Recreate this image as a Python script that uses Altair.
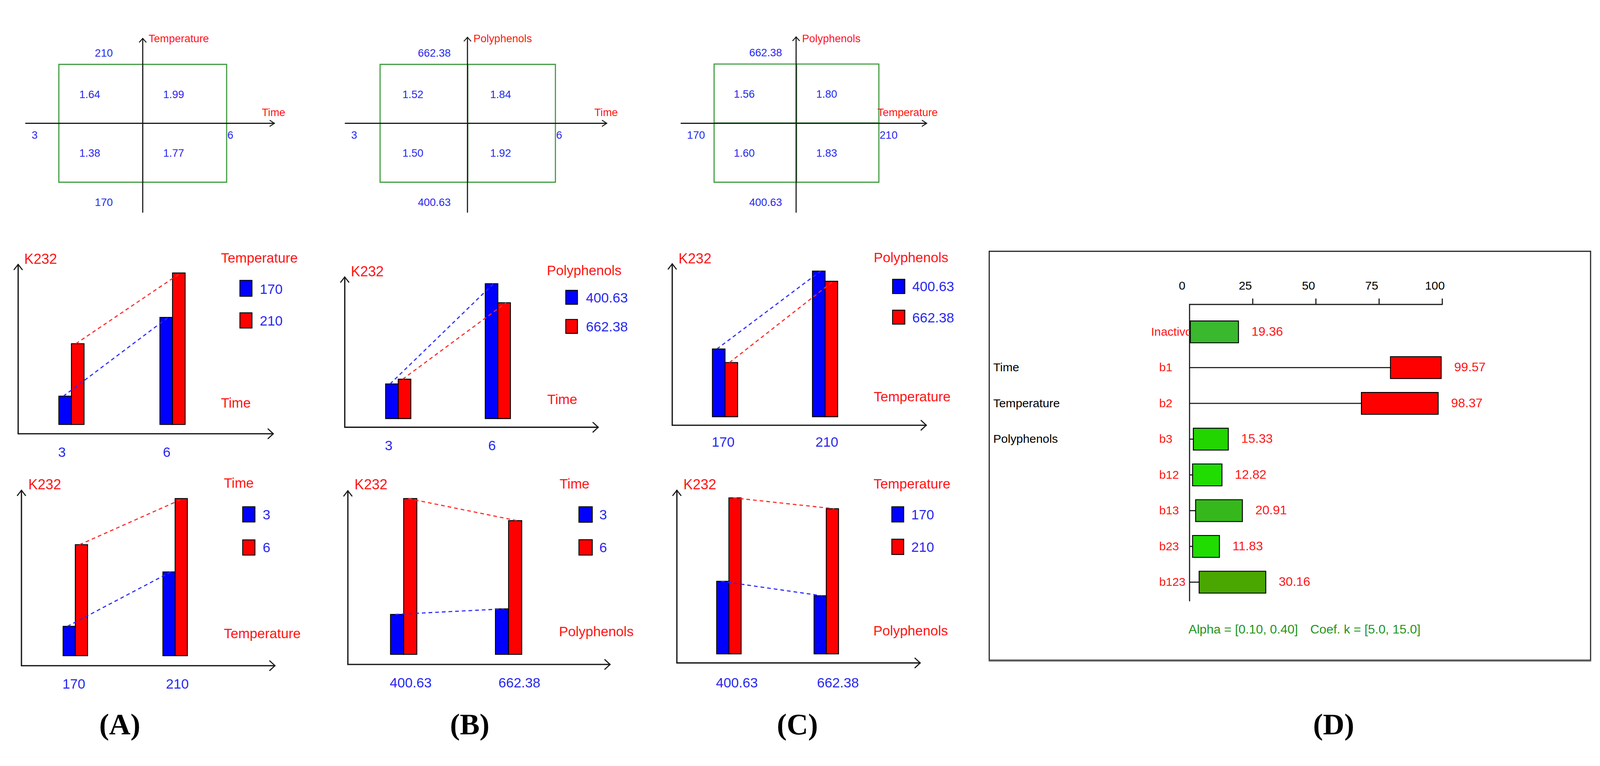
import altair as alt
import pandas as pd

# ---------------- data ----------------
time_levels = [3, 6]
temp_levels = [170, 210]
poly_levels = [400.63, 662.38]

A_time = [3, 3, 6, 6]
A_temp = [170, 210, 170, 210]
A_k232 = [1.38, 1.64, 1.77, 1.99]

B_time = [3, 3, 6, 6]
B_poly = [400.63, 662.38, 400.63, 662.38]
B_k232 = [1.50, 1.52, 1.92, 1.84]

C_temp = [170, 170, 210, 210]
C_poly = [400.63, 662.38, 400.63, 662.38]
C_k232 = [1.60, 1.56, 1.83, 1.80]

# lower end of the K232 axis in the interaction plots
A_base = 1.24
B_base = 1.355
C_base = 1.40

effect_names = ["Inactivo", "b1", "b2", "b3", "b12", "b13", "b23", "b123"]
effect_values = [19.36, 99.57, 98.37, 15.33, 12.82, 20.91, 11.83, 30.16]
effect_low = [0.3, 79.5, 68.0, 1.5, 1.2, 2.4, 1.2, 3.8]
factor_names = ["Time", "Temperature", "Polyphenols"]
factor_effects = ["b1", "b2", "b3"]
effect_ticks = [0, 25, 50, 75, 100]
alpha_text = "Alpha = [0.10, 0.40]"
coef_text = "Coef. k = [5.0, 15.0]"
panel_letters = ["(A)", "(B)", "(C)", "(D)"]
response_name = "K232"

# ---------------- styles ----------------
OFF = 8
FONT = "Liberation Sans, Arial, sans-serif"
SERIF = "Liberation Serif, Times New Roman, serif"
BLUE_T = "#2828f0"
RED_T = "#ff1414"
BLUE_F = "#0000ff"
RED_F = "#ff0000"
GREEN = "#3d9a3d"
AXIS = "#1a1a1a"
EFFECT_COLORS = ["#3ab82e", "#ff0000", "#ff0000", "#22d400", "#20dc00",
                 "#36b81c", "#20dc00", "#4aa600"]
FS_TOP = 29      # square plots
FS_BAR = 37      # interaction plots
FS_K = 38
FS_D = 32        # effects panel labels
FS_DV = 34       # effects panel values


def P(v):
    return v - OFF


def lab(v):
    return f"{v:g}"


def one():
    return alt.Data(values=[{"a": 1}])


def seg(x1, y1, x2, y2, color=AXIS, w=3, dash=None):
    kw = dict(color=color, strokeWidth=w, strokeCap="round")
    if dash:
        kw["strokeDash"] = dash
    return alt.Chart(one()).mark_rule(**kw).encode(
        x=alt.value(P(x1)), y=alt.value(P(y1)),
        x2=alt.value(P(x2)), y2=alt.value(P(y2)))


def label(text, x, y, color, size, font=FONT, align="left", weight="normal"):
    return alt.Chart(alt.Data(values=[{"t": text}])).mark_text(
        align=align, baseline="middle", color=color, fontSize=size,
        font=font, fontWeight=weight).encode(
        x=alt.value(P(x)), y=alt.value(P(y)), text="t:N")


def up_arrow(x, y, hw, hh, w=3):
    return [seg(x - hw, y + hh, x, y, w=w), seg(x, y, x + hw, y + hh, w=w)]


def right_arrow(x, y, hw, hh, w=3):
    return [seg(x - hh, y - hw, x, y, w=w), seg(x, y, x - hh, y + hw, w=w)]


# ---------------- square (cube) plots ----------------
def square_plot(xv, yv, k, xlev, ylev, g, vname, hname):
    df = pd.DataFrame({"xl": [lab(v) for v in xv], "yl": [lab(v) for v in yv], "k": k})
    xsc = alt.Scale(type="band", domain=[lab(v) for v in xlev],
                    range=[P(g["bx0"]), P(g["bx1"])], paddingInner=0, paddingOuter=0)
    ysc = alt.Scale(type="band", domain=[lab(ylev[1]), lab(ylev[0])],
                    range=[P(g["by0"]), P(g["by1"])], paddingInner=0, paddingOuter=0)
    enc = dict(x=alt.X("xl:N", scale=xsc, axis=None), y=alt.Y("yl:N", scale=ysc, axis=None))
    L = [alt.Chart(df).mark_rect(fill="white", fillOpacity=0, stroke=GREEN,
                                 strokeWidth=3).encode(**enc)]
    L.append(seg(g["vx"], g["vtop"], g["vx"], g["vbot"]))
    L.append(seg(g["hx0"], g["hy"], g["hx1"], g["hy"]))
    L += up_arrow(g["vx"], g["vtop"], 9, 10, 2.5)
    L += right_arrow(g["hx1"], g["hy"], 8, 12, 2.5)
    L.append(alt.Chart(df).mark_text(align="left", baseline="middle", dx=-58, dy=2,
                                     color=BLUE_T, fontSize=FS_TOP, font=FONT).encode(
        text=alt.Text("k:Q", format=".2f"), **enc))
    qx = (g["bx0"] + g["vx"]) / 2 - 16
    L.append(label(lab(xlev[0]), g["hx0"] + 16, g["hy"] + 33, BLUE_T, FS_TOP))
    L.append(label(lab(xlev[1]), g["bx1"] + 2, g["hy"] + 33, BLUE_T, FS_TOP))
    L.append(label(lab(ylev[1]), qx, g["by0"] - 30, BLUE_T, FS_TOP))
    L.append(label(lab(ylev[0]), qx, g["by1"] + 55, BLUE_T, FS_TOP))
    L.append(label(vname, g["vx"] + 16, 51, RED_T, FS_TOP))
    L.append(label(hname, g["hname_right"], g["hy"] - 28, RED_T, FS_TOP, align="right"))
    return L


# ---------------- interaction bar plots ----------------
def bar_panel(xv, sv, k, xlev, slev, base_v, g, xname, sname):
    df = pd.DataFrame({"xv": xv, "sv": sv, "k": k})
    bw = g["bw"]
    c0, c1 = g["c"]
    ysc = alt.Scale(domain=[base_v, max(k)], range=[P(g["baseline"]), P(g["top"])],
                    nice=False, zero=False)
    L = []
    series = [(slev[0], BLUE_F, "#2a2aff", -bw / 2), (slev[1], RED_F, "#ff2a2a", bw / 2)]
    bars, lines = [], []
    for s, fill, lcol, off in series:
        sub = df[df["sv"] == s]
        xsc = alt.Scale(domain=list(xlev), range=[P(c0 + off), P(c1 + off)],
                        nice=False, zero=False)
        X = alt.X("xv:Q", scale=xsc, axis=None)
        Y = alt.Y("k:Q", scale=ysc, axis=None)
        bars.append(alt.Chart(sub).mark_bar(size=bw, fill=fill, stroke="black",
                                            strokeWidth=2.5).encode(
            x=X, y=Y, y2=alt.datum(base_v)))
        lines.append(alt.Chart(sub).mark_line(color=lcol, strokeWidth=3,
                                              strokeDash=[10, 8]).encode(x=X, y=Y))
    L += bars + lines
    # axes
    L.append(seg(g["ax"], g["tip"], g["ax"], g["ay"], w=3.5))
    L.append(seg(g["ax"], g["ay"], g["arr"], g["ay"], w=3.5))
    L += up_arrow(g["ax"], g["tip"], 11, 14, 3)
    L += right_arrow(g["arr"], g["ay"], 13, 14, 3)
    # category labels under the axis
    tdf = pd.DataFrame({"xv": list(xlev), "t": [lab(v) for v in xlev]})
    tsc = alt.Scale(domain=list(xlev), range=[P(c0 - bw + 3), P(c1 - bw + 3)],
                    nice=False, zero=False)
    L.append(alt.Chart(tdf).mark_text(align="left", baseline="middle", color=BLUE_T,
                                      fontSize=FS_BAR, font=FONT).encode(
        x=alt.X("xv:Q", scale=tsc, axis=None), y=alt.value(P(g["ty"])), text="t:N"))
    # titles
    L.append(label(response_name, g["k232"][0], g["k232"][1], RED_T, FS_K))
    L.append(label(sname, g["lt"][0], g["lt"][1], RED_T, FS_BAR))
    L.append(label(xname, g["xl"][0], g["xl"][1], RED_T, FS_BAR))
    # legend
    for (s, fill, _, _), (y0, y1), ty in zip(series, g["sqy"], g["lty"]):
        L.append(alt.Chart(one()).mark_rect(fill=fill, stroke="black", strokeWidth=2.5).encode(
            x=alt.value(P(g["sqx"][0])), x2=alt.value(P(g["sqx"][1])),
            y=alt.value(P(y0)), y2=alt.value(P(y1))))
        L.append(label(lab(s), g["ltx"], ty, BLUE_T, FS_BAR))
    return L


# ---------------- effects panel ----------------
def d_panel():
    L = []
    L.append(alt.Chart(one()).mark_rect(fill="white", fillOpacity=0, stroke="#222",
                                        strokeWidth=3).encode(
        x=alt.value(P(2671)), x2=alt.value(P(4295)),
        y=alt.value(P(624.5)), y2=alt.value(P(1728))))
    L.append(seg(2671, 1730, 4295, 1730, color="#666", w=4))
    df = pd.DataFrame({"effect": effect_names, "value": effect_values, "low": effect_low})
    xsc = alt.Scale(domain=[0, 100], range=[P(3212), P(3894.5)], nice=False, zero=False)
    ysc = alt.Scale(type="point", domain=effect_names, range=[P(842), P(1517.6)], padding=0)

    def X(f):
        return alt.X(f, scale=xsc, axis=None)
    Y = alt.Y("effect:N", scale=ysc, axis=None)

    L.append(seg(3212, 768, 3894.5, 768, w=3))
    L.append(seg(3212, 768, 3212, 1568, w=3))
    tdf = pd.DataFrame({"t": effect_ticks})
    L.append(alt.Chart(tdf[tdf["t"] > 0]).mark_rule(color=AXIS, strokeWidth=3).encode(
        x=X("t:Q"), y=alt.value(P(752)), y2=alt.value(P(768))))
    L.append(alt.Chart(tdf).mark_text(align="center", baseline="middle", dx=-20,
                                      fontSize=FS_D, font=FONT, color="black").encode(
        x=X("t:Q"), y=alt.value(P(718)), text="t:N"))
    # row labels
    L.append(alt.Chart(df[df["effect"] != "Inactivo"]).mark_text(
        align="left", baseline="middle", color=RED_T, fontSize=FS_D, font=FONT).encode(
        x=alt.value(P(3130)), y=Y, text="effect:N"))
    L.append(alt.Chart(df[df["effect"] == "Inactivo"]).mark_text(
        align="left", baseline="middle", color=RED_T, fontSize=FS_D, font=FONT).encode(
        x=alt.value(P(3108)), y=Y, text="effect:N"))
    fdf = pd.DataFrame({"effect": factor_effects, "name": factor_names})
    L.append(alt.Chart(fdf).mark_text(align="left", baseline="middle", color="black",
                                      fontSize=FS_D, font=FONT).encode(
        x=alt.value(P(2682)), y=Y, text="name:N"))
    # stems and bars
    L.append(alt.Chart(df).mark_rule(color=AXIS, strokeWidth=3).encode(
        x=X("low:Q"), x2=alt.datum(0), y=Y))
    L.append(alt.Chart(df).mark_bar(size=59, stroke="black", strokeWidth=2.5).encode(
        x=X("low:Q"), x2="value:Q", y=Y,
        color=alt.Color("effect:N", scale=alt.Scale(domain=effect_names, range=EFFECT_COLORS),
                        legend=None)))
    L.append(alt.Chart(df).mark_text(align="left", baseline="middle", dx=35, color=RED_T,
                                     fontSize=FS_DV, font=FONT).encode(
        x=X("value:Q"), y=Y, text=alt.Text("value:Q", format=".2f")))
    L.append(label(alpha_text, 3209, 1646, "#1e961e", FS_DV))
    L.append(label(coef_text, 3538, 1646, "#1e961e", FS_DV))
    return L


# ---------------- geometry ----------------
SQ_A = dict(bx0=158.5, bx1=611.6, by0=120, by1=438, vx=385, vtop=50, vbot=519,
            hy=279, hx0=69, hx1=740.6, hname_right=770)
SQ_B = dict(bx0=1026, bx1=1499.5, by0=120, by1=438, vx=1262, vtop=47, vbot=519,
            hy=279, hx0=932, hx1=1638, hname_right=1668)
SQ_C = dict(bx0=1928, bx1=2373, by0=119, by1=438, vx=2149.5, vtop=46, vbot=519,
            hy=279, hx0=1839, hx1=2502, hname_right=2532)

G_mA = dict(ax=48.6, tip=660, ay=1117, arr=737.5, baseline=1092, top=683, c=(187.5, 470.5), bw=34,
            k232=(65, 647), lt=(596, 644), sqx=(647.5, 680), sqy=((703, 746), (790.6, 831.7)),
            ltx=701, lty=(728, 814), xl=(596, 1035), ty=1168)
G_bA = dict(ax=57.5, tip=1269.6, ay=1743, arr=742, baseline=1716, top=1292, c=(198, 477.5), bw=33,
            k232=(76, 1256), lt=(604, 1252), sqx=(655, 688), sqy=((1314, 1355), (1403.5, 1444.5)),
            ltx=709, lty=(1337, 1426), xl=(604, 1658), ty=1794)
G_mB = dict(ax=930.6, tip=694, ay=1099.5, arr=1615, baseline=1076, top=712, c=(1070, 1349), bw=34,
            k232=(947, 681), lt=(1476.5, 678), sqx=(1527.5, 1559), sqy=((730, 767.5), (808.5, 846)),
            ltx=1582, lty=(752, 830), xl=(1477.5, 1026), ty=1150)
G_bB = dict(ax=939, tip=1271, ay=1739.7, arr=1647, baseline=1712.5, top=1292, c=(1084.7, 1378), bw=35.5,
            k232=(957, 1256), lt=(1510.7, 1253.5), sqx=(1563, 1599), sqy=((1314, 1356), (1403, 1444.5)),
            ltx=1618, lty=(1337, 1426), xl=(1509, 1653), ty=1791)
G_mC = dict(ax=1815, tip=658.5, ay=1094, arr=2501, baseline=1071, top=678, c=(1952.5, 2232.7), bw=34,
            k232=(1832, 646), lt=(2359, 643), sqx=(2410, 2443), sqy=((700, 738.5), (783.5, 821)),
            ltx=2463, lty=(721, 805), xl=(2359, 1019), ty=1140.5)
G_bC = dict(ax=1827.5, tip=1269.6, ay=1735.6, arr=2484.5, baseline=1711, top=1290, c=(1963, 2236), bw=33,
            k232=(1845, 1256), lt=(2358.5, 1253.5), sqx=(2408, 2440), sqy=((1314, 1355), (1401.5, 1443)),
            ltx=2460.5, lty=(1337, 1425), xl=(2358, 1650), ty=1790.5)

LETTER_POS = [(323, 1904), (1268, 1904), (2153, 1904), (3601, 1904)]

# ---------------- assemble ----------------
layers = []
layers += square_plot(A_time, A_temp, A_k232, time_levels, temp_levels, SQ_A, "Temperature", "Time")
layers += square_plot(B_time, B_poly, B_k232, time_levels, poly_levels, SQ_B, "Polyphenols", "Time")
layers += square_plot(C_temp, C_poly, C_k232, temp_levels, poly_levels, SQ_C, "Polyphenols", "Temperature")

layers += bar_panel(A_time, A_temp, A_k232, time_levels, temp_levels, A_base, G_mA, "Time", "Temperature")
layers += bar_panel(A_temp, A_time, A_k232, temp_levels, time_levels, A_base, G_bA, "Temperature", "Time")
layers += bar_panel(B_time, B_poly, B_k232, time_levels, poly_levels, B_base, G_mB, "Time", "Polyphenols")
layers += bar_panel(B_poly, B_time, B_k232, poly_levels, time_levels, B_base, G_bB, "Polyphenols", "Time")
layers += bar_panel(C_temp, C_poly, C_k232, temp_levels, poly_levels, C_base, G_mC, "Temperature", "Polyphenols")
layers += bar_panel(C_poly, C_temp, C_k232, poly_levels, temp_levels, C_base, G_bC, "Polyphenols", "Temperature")

layers += d_panel()

for txt, (x, y) in zip(panel_letters, LETTER_POS):
    layers.append(label(txt, x, y, "black", 80, SERIF, align="center", weight="bold"))

chart = alt.layer(*layers).resolve_scale(
    x="independent", y="independent", color="independent"
).properties(
    width=4320 - 2 * OFF, height=1960 - 2 * OFF,
    autosize=alt.AutoSizeParams(type="none"), padding=0, background="white"
).configure_view(stroke=None)

chart.save("out.html", embed_options={"renderer": "svg", "actions": False})
